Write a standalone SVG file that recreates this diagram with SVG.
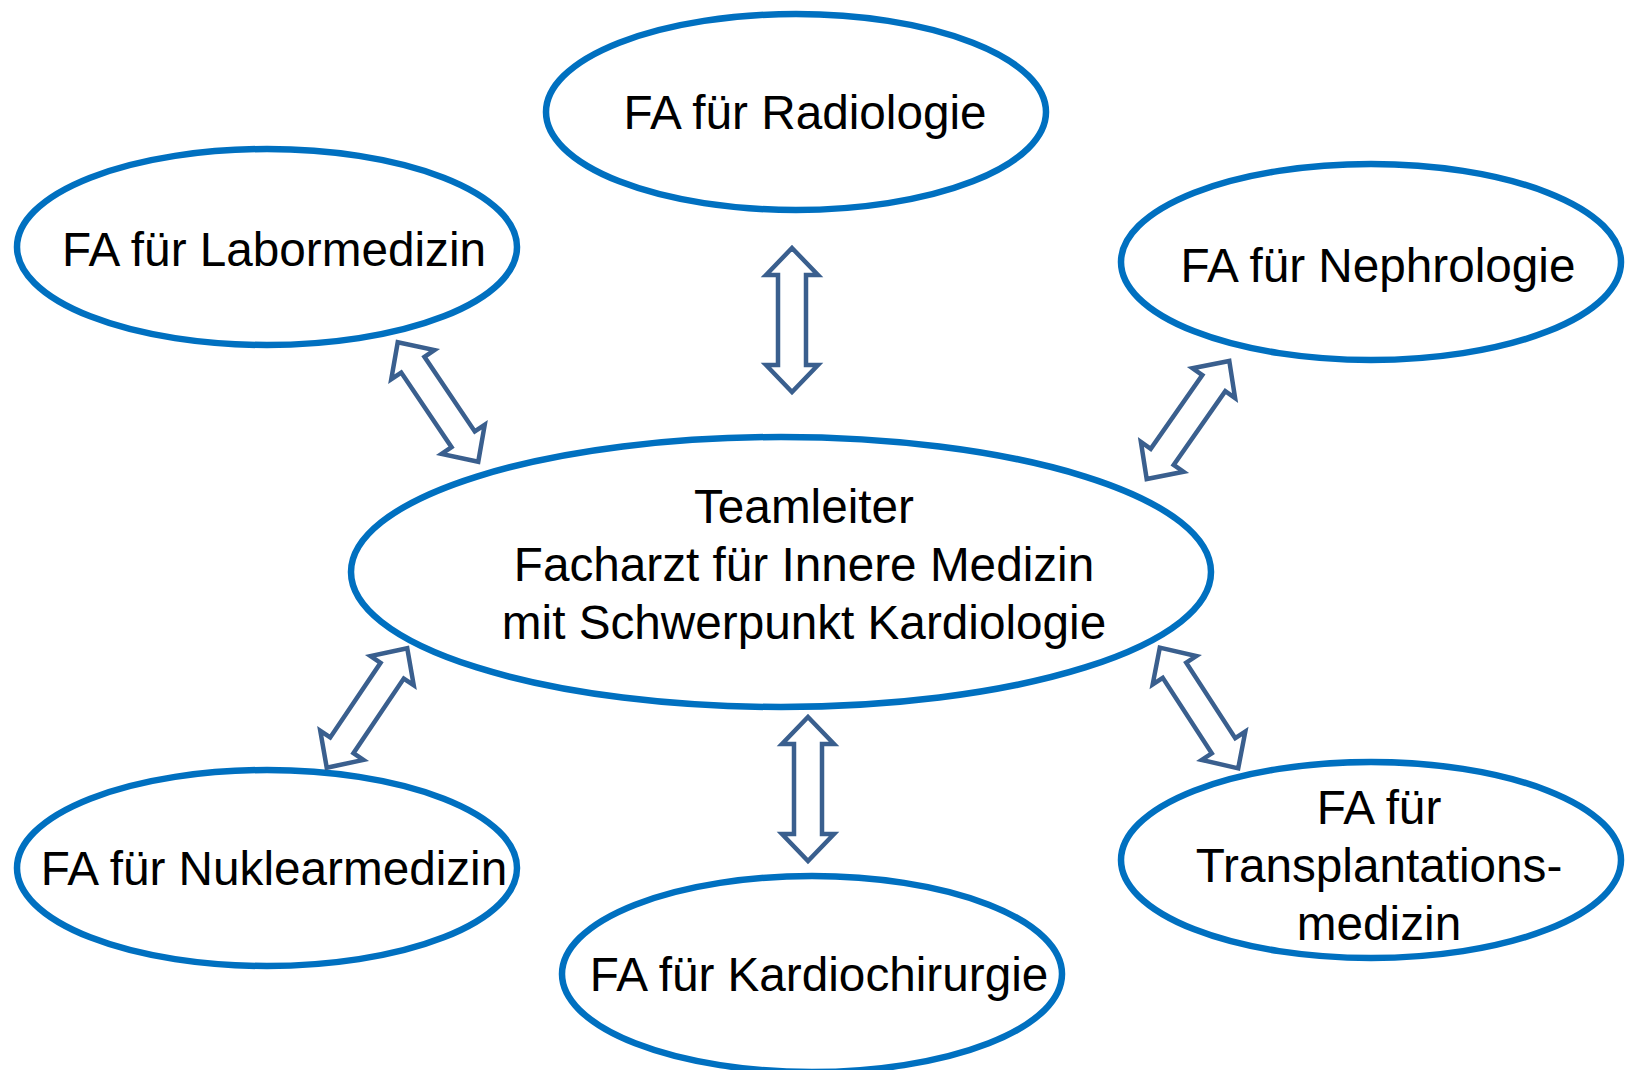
<svg xmlns="http://www.w3.org/2000/svg" width="1628" height="1070" viewBox="0 0 1628 1070">
<style>
.node{fill:#fff;stroke:#0070C0;stroke-width:6.5}
.lbl{font-family:"Liberation Sans",Arial,sans-serif;font-size:47.7px;fill:#000;text-anchor:middle}
.arr{fill:#fff;stroke:#3A5F8E;stroke-width:4.5;stroke-linejoin:miter}
</style>
<defs>
<path id="dbl" d="M0,-72 L26,-45 L14,-45 L14,45 L26,45 L0,72 L-26,45 L-14,45 L-14,-45 L-26,-45 Z"/>
</defs>
<rect width="1628" height="1070" fill="#fff"/>
<g id="n-radiologie"><ellipse class="node" cx="796" cy="112" rx="250" ry="98"/><text class="lbl" x="805" y="129">FA für Radiologie</text></g>
<g id="n-labor"><ellipse class="node" cx="267" cy="247" rx="250" ry="98"/><text class="lbl" x="274" y="266">FA für Labormedizin</text></g>
<g id="n-nephro"><ellipse class="node" cx="1371" cy="262" rx="250" ry="98"/><text class="lbl" x="1378" y="282">FA für Nephrologie</text></g>
<g id="n-center"><ellipse class="node" cx="781" cy="572" rx="430" ry="135"/>
<text class="lbl" x="804" y="523">Teamleiter</text>
<text class="lbl" x="804" y="581">Facharzt für Innere Medizin</text>
<text class="lbl" x="804" y="639">mit Schwerpunkt Kardiologie</text></g>
<g id="n-nuklear"><ellipse class="node" cx="267" cy="868" rx="250" ry="98"/><text class="lbl" x="274" y="885">FA für Nuklearmedizin</text></g>
<g id="n-kardio"><ellipse class="node" cx="812" cy="974" rx="250" ry="98"/><text class="lbl" x="819" y="991">FA für Kardiochirurgie</text></g>
<g id="n-transplant"><ellipse class="node" cx="1371" cy="860" rx="250" ry="98"/>
<text class="lbl" x="1379" y="824">FA für</text>
<text class="lbl" x="1379" y="882">Transplantations-</text>
<text class="lbl" x="1379" y="940">medizin</text></g>
<g id="connectors">
<use href="#dbl" class="arr" transform="translate(792,320)"/>
<use href="#dbl" class="arr" transform="translate(808,789)"/>
<use href="#dbl" class="arr" transform="translate(438,402) rotate(-34)"/>
<use href="#dbl" class="arr" transform="translate(1188,420) rotate(35)"/>
<use href="#dbl" class="arr" transform="translate(367,708) rotate(34)"/>
<use href="#dbl" class="arr" transform="translate(1199,708) rotate(-33)"/>
</g>
</svg>
